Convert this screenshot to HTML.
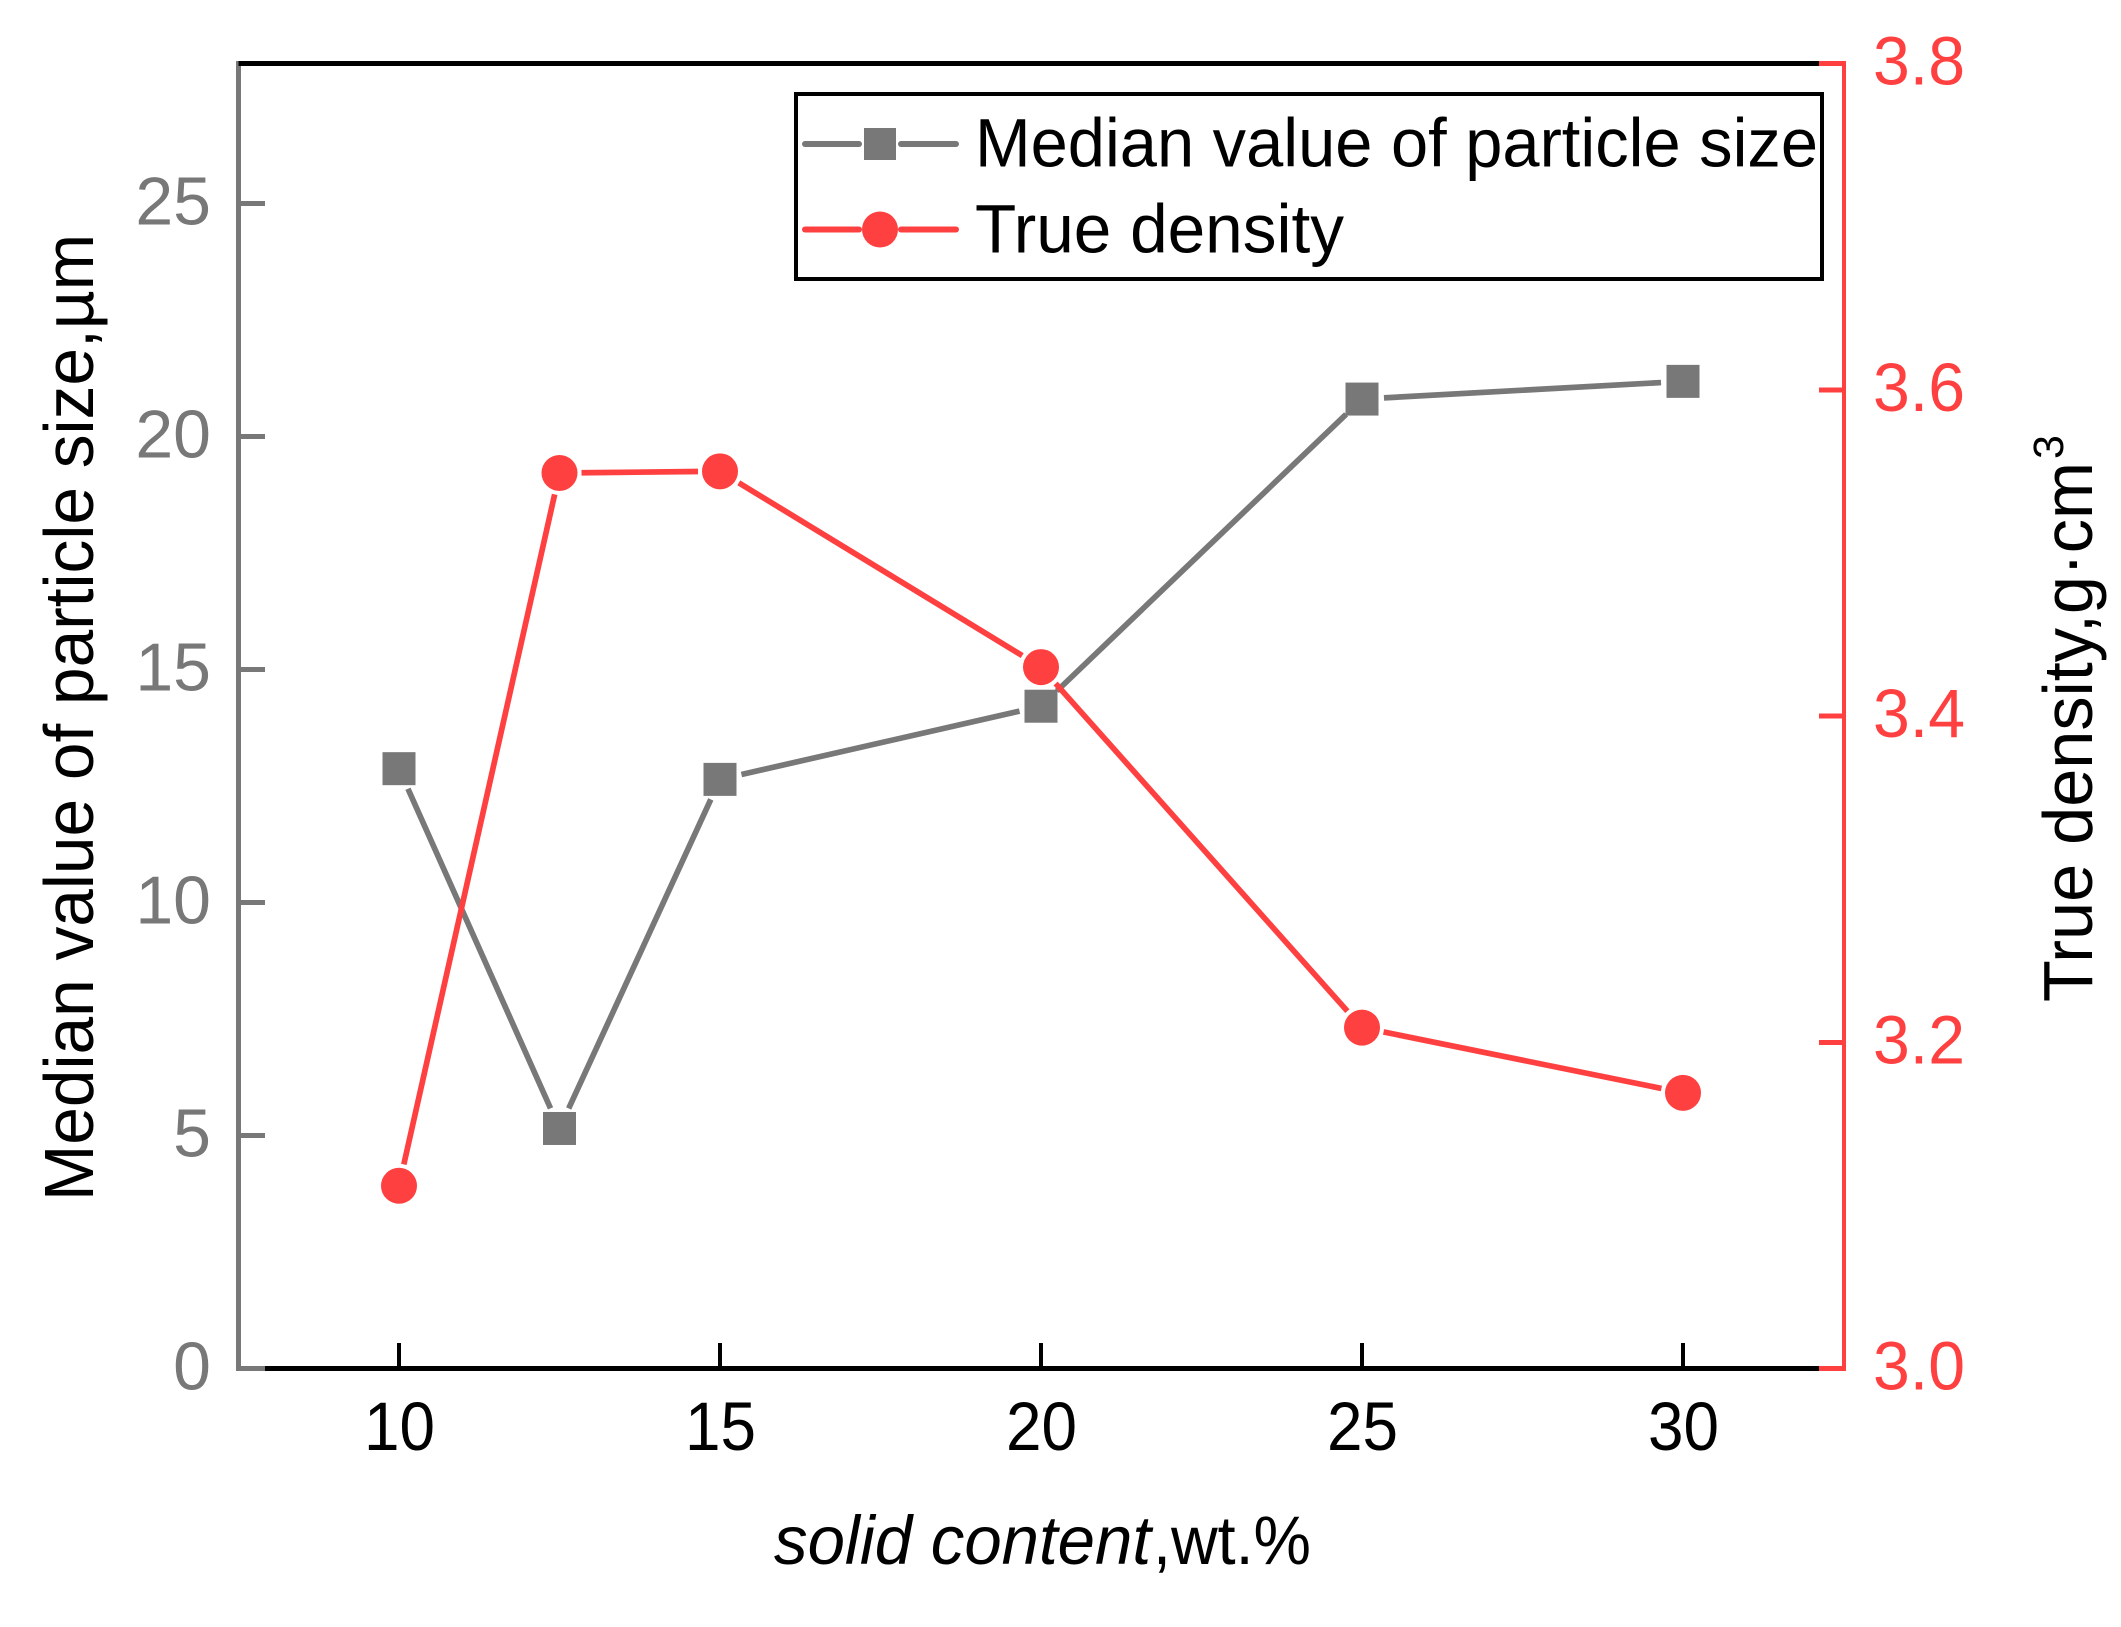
<!DOCTYPE html>
<html lang="en">
<head>
<meta charset="utf-8">
<title>Median particle size and true density versus solid content</title>
<style>
  html, body { margin: 0; padding: 0; background: #fff; }
  svg { display: block; font-family: "Liberation Sans", Arial, sans-serif; }
</style>
</head>
<body>
<svg id="chart" xmlns="http://www.w3.org/2000/svg" width="2121" height="1627" viewBox="0 0 2121 1627">
  <rect x="0" y="0" width="2121" height="1627" fill="#ffffff"/>
  <g id="axes" shape-rendering="crispEdges"></g>
  <g id="tick-labels"></g>
  <g id="series"></g>

  <g>
    <text x="774" y="1564" font-size="69" font-style="italic" fill="#000" textLength="377" lengthAdjust="spacingAndGlyphs">solid content</text>
    <text x="1153" y="1564" font-size="69" fill="#000" textLength="158" lengthAdjust="spacingAndGlyphs">,wt.%</text>
  </g>
  <text transform="translate(93,1201) rotate(-90)" font-size="70" fill="#000" textLength="967" lengthAdjust="spacingAndGlyphs">Median value of particle size,µm</text>
  <text transform="translate(2092,1002) rotate(-90)" font-size="70" fill="#000" textLength="540" lengthAdjust="spacingAndGlyphs">True density,g·cm</text>
  <text transform="translate(2063,459) rotate(-90)" font-size="43" fill="#000">3</text>

  <g id="legend">
    <rect x="796" y="94" width="1026" height="185" fill="#ffffff" stroke="#000" stroke-width="4" shape-rendering="crispEdges"/>
    <g>
      <line x1="805" y1="144" x2="859" y2="144" stroke="#787878" stroke-width="6" stroke-linecap="round"/>
      <line x1="901" y1="144" x2="956" y2="144" stroke="#787878" stroke-width="6" stroke-linecap="round"/>
      <rect x="864" y="128" width="32" height="32" fill="#787878"/>
      <text x="975" y="166.5" font-size="69" fill="#000" textLength="843" lengthAdjust="spacingAndGlyphs">Median value of particle size</text>
    </g>
    <g>
      <line x1="805" y1="229.5" x2="859" y2="229.5" stroke="#ff4040" stroke-width="6" stroke-linecap="round"/>
      <line x1="901" y1="229.5" x2="956" y2="229.5" stroke="#ff4040" stroke-width="6" stroke-linecap="round"/>
      <circle cx="880" cy="229.5" r="18" fill="#ff4040"/>
      <text x="975" y="252.5" font-size="69" fill="#000" textLength="369" lengthAdjust="spacingAndGlyphs">True density</text>
    </g>
  </g>
</svg>

<script>
// ---- chart data ----
const xValues = [10, 12.5, 15, 20, 25, 30];
const medianSize = [12.87, 5.15, 12.64, 14.21, 20.8, 21.18];
const trueDensity = [3.112, 3.549, 3.55, 3.43, 3.209, 3.169];
const xTicks = [10, 15, 20, 25, 30];
const leftTicks = [0, 5, 10, 15, 20, 25];
const rightTicks = ['3.0', '3.2', '3.4', '3.6', '3.8'];
const xDomain = [7.5, 32.5];
const leftDomain = [0, 28];
const rightDomain = [3.0, 3.8];

// ---- layout ----
const plot = { left: 238.5, right: 1843.5, top: 63.5, bottom: 1368.5 };
const GRAY = '#787878';
const RED = '#ff4040';
const GAP = 22;
const LINE_WIDTH = 5.7;
const NS = 'http://www.w3.org/2000/svg';

function xPos(v) {
  return plot.left + (v - xDomain[0]) / (xDomain[1] - xDomain[0]) * (plot.right - plot.left);
}
function leftPos(v) {
  return plot.bottom - (v - leftDomain[0]) / (leftDomain[1] - leftDomain[0]) * (plot.bottom - plot.top);
}
function rightPos(v) {
  return plot.bottom - (v - rightDomain[0]) / (rightDomain[1] - rightDomain[0]) * (plot.bottom - plot.top);
}
function make(parent, tag, attrs, text) {
  const el = document.createElementNS(NS, tag);
  for (const k in attrs) el.setAttribute(k, attrs[k]);
  if (text !== undefined) el.textContent = text;
  parent.appendChild(el);
  return el;
}

const axes = document.getElementById('axes');
const tickLabels = document.getElementById('tick-labels');
const seriesGroup = document.getElementById('series');
let el;

// axis spines
el = make(axes, 'line', { x1: plot.left, y1: plot.top - 2.5, x2: plot.left, y2: plot.bottom + 2.5, stroke: GRAY, 'stroke-width': 5 });


el = make(axes, 'line', { x1: plot.left, y1: plot.bottom, x2: 265, y2: plot.bottom, stroke: GRAY, 'stroke-width': 5 });


el = make(axes, 'line', { x1: plot.left, y1: plot.top, x2: 1819, y2: plot.top, stroke: '#000', 'stroke-width': 5 });


el = make(axes, 'line', { x1: 265, y1: plot.bottom, x2: 1819, y2: plot.bottom, stroke: '#000', 'stroke-width': 5 });


el = make(axes, 'line', { x1: plot.right + 0.5, y1: plot.top - 2.5, x2: plot.right + 0.5, y2: plot.bottom + 2.5, stroke: RED, 'stroke-width': 4 });



// x ticks
xTicks.forEach(function (t) {
  const x = xPos(t);
  const tick = make(axes, 'line', { x1: x, y1: 1343, x2: x, y2: plot.bottom, stroke: '#000', 'stroke-width': 4 });
  
  
  const label = make(tickLabels, 'text', { x: x - 35, y: 1450, 'font-size': 69, fill: '#000', textLength: 71, lengthAdjust: 'spacingAndGlyphs' }, String(t));
  
  
});

// left ticks
leftTicks.forEach(function (t) {
  const y = leftPos(t);
  if (t !== 0) {
    const tick = make(axes, 'line', { x1: plot.left, y1: y, x2: 265, y2: y, stroke: GRAY, 'stroke-width': 5 });
    
    
  }
  const label = make(tickLabels, 'text', { x: 211, y: y + 21, 'text-anchor': 'end', 'font-size': 68, fill: GRAY }, String(t));
  
  
});

// right ticks
rightTicks.forEach(function (t) {
  const y = rightPos(parseFloat(t));
  const tick = make(axes, 'line', { x1: 1819, y1: y, x2: plot.right, y2: y, stroke: RED, 'stroke-width': 5 });
  
  
  const label = make(tickLabels, 'text', { x: 1873, y: y + 21, 'font-size': 69, fill: RED, textLength: 92, lengthAdjust: 'spacingAndGlyphs' }, t);
  
  
});

// series: line segments stop short of each marker
function drawSegments(values, yFn, color) {
  for (let i = 0; i < values.length - 1; i++) {
    const x0 = xPos(xValues[i]), y0 = yFn(values[i]);
    const x1 = xPos(xValues[i + 1]), y1 = yFn(values[i + 1]);
    const len = Math.hypot(x1 - x0, y1 - y0);
    const ux = (x1 - x0) / len, uy = (y1 - y0) / len;
    const seg = make(seriesGroup, 'line', {
      x1: x0 + ux * GAP, y1: y0 + uy * GAP,
      x2: x1 - ux * GAP, y2: y1 - uy * GAP,
      stroke: color, 'stroke-width': LINE_WIDTH
    });
    
    
  }
}

drawSegments(medianSize, leftPos, GRAY);
drawSegments(trueDensity, rightPos, RED);

medianSize.forEach(function (v, i) {
  const s = 33;
  const m = make(seriesGroup, 'rect', { x: xPos(xValues[i]) - s / 2, y: leftPos(v) - s / 2, width: s, height: s, fill: GRAY });
  
  
});

trueDensity.forEach(function (v, i) {
  const m = make(seriesGroup, 'circle', { cx: xPos(xValues[i]), cy: rightPos(v), r: 18, fill: RED });
  
  
});
</script>
</body>
</html>
